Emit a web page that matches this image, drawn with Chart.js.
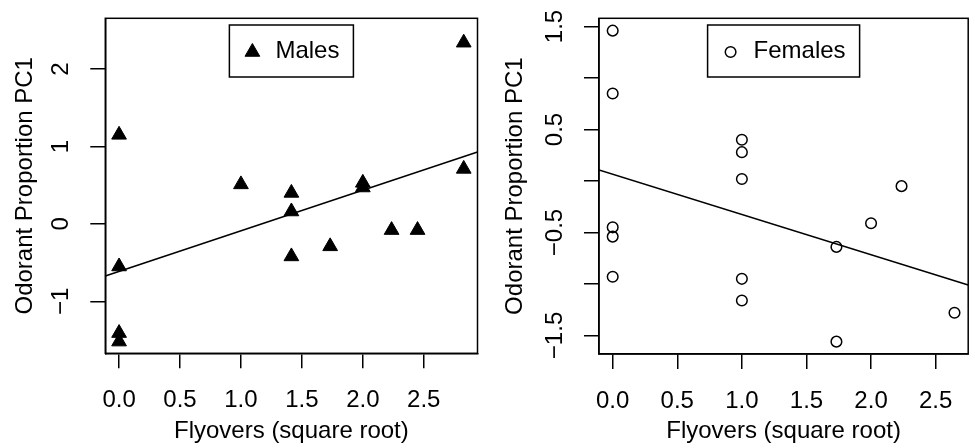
<!DOCTYPE html>
<html>
<head>
<meta charset="utf-8">
<script src="https://cdn.jsdelivr.net/npm/chart.js@4.4.0/dist/chart.umd.min.js"></script>
<style>
  body { margin: 0; background: #fff; }
  #wrap { display: flex; width: 975px; height: 448px; }
  canvas { display: block; }
</style>
</head>
<body>
<div id="wrap">
  <canvas id="males" width="487" height="448"></canvas>
  <canvas id="females" width="488" height="448"></canvas>
</div>
<script>
const FONT_FAMILY = '"Liberation Sans", Arial, Helvetica, sans-serif';
const FONT_SIZE = 24;

const xTicks = [0, 0.5, 1, 1.5, 2, 2.5];
const xTickLabels = ["0.0", "0.5", "1.0", "1.5", "2.0", "2.5"];

// males (left panel)
const maleX = [0, 0, 0, 0, 1, 1.414, 1.414, 1.414, 1.732, 2, 2, 2.236, 2.449, 2.828, 2.828];
const maleY = [1.15, -0.55, -1.41, -1.52, 0.51, 0.40, 0.16, -0.42, -0.29, 0.53, 0.47, -0.08, -0.08, 2.34, 0.71];
const maleLineX = [-0.113, 2.941];
const maleLineY = [-0.672, 0.928];
const maleYTicks = [-1, 0, 1, 2];
const maleYLabels = ["\u22121", "0", "1", "2"];

// females (right panel)
const femaleX = [0, 0, 0, 0, 0, 1, 1, 1, 1, 1, 1.732, 1.732, 2, 2.236, 2.646];
const femaleY = [1.46, 0.85, -0.45, -0.54, -0.93, 0.40, 0.28, 0.02, -0.95, -1.16, -0.64, -1.56, -0.41, -0.05, -1.28];
const femaleLineX = [-0.106, 2.752];
const femaleLineY = [0.107, -1.010];
const femaleYTicks = [-1.5, -1, -0.5, 0, 0.5, 1, 1.5];
const femaleYLabels = ["\u22121.5", "", "\u22120.5", "", "0.5", "", "1.5"];

Chart.defaults.font.family = FONT_FAMILY;
Chart.defaults.font.size = FONT_SIZE;
Chart.defaults.color = "#000";

function pts(xs, ys) {
  return xs.map((x, i) => ({ x: x, y: ys[i] }));
}

// box, rotated y labels and boxed legend, the way base R draws them
const rStyle = {
  id: "rStyle",
  afterDraw(chart, args, opts) {
    const ctx = chart.ctx;
    const a = chart.chartArea;
    const ys = chart.scales.y;
    ctx.save();
    ctx.strokeStyle = "#000";
    ctx.fillStyle = "#000";
    ctx.lineWidth = 1.5;
    ctx.strokeRect(a.left, a.top, a.right - a.left, a.bottom - a.top);

    ctx.font = FONT_SIZE + "px " + FONT_FAMILY;
    ctx.textAlign = "center";
    ctx.textBaseline = "alphabetic";
    opts.yTicks.forEach((v, i) => {
      ctx.save();
      ctx.translate(a.left - 37, ys.getPixelForValue(v));
      ctx.rotate(-Math.PI / 2);
      ctx.fillText(opts.yLabels[i], 0, 0);
      ctx.restore();
    });

    const ds = chart.data.datasets[1];
    const tw = ctx.measureText(ds.label).width;
    const bw = 46 + tw + 14, bh = 52;
    const bx = (a.left + a.right) / 2 - bw / 2;
    const by = a.top + 6.7;
    ctx.strokeRect(bx, by, bw, bh);
    ctx.fillStyle = ds.backgroundColor;
    ctx.strokeStyle = ds.borderColor;
    ctx.lineWidth = ds.borderWidth;
    Chart.helpers.drawPoint(ctx, { pointStyle: ds.pointStyle, radius: ds.pointRadius, borderWidth: ds.borderWidth, rotation: 0 }, bx + 23, by + 27);
    ctx.fillStyle = "#000";
    ctx.textAlign = "left";
    ctx.fillText(ds.label, bx + 46, by + 33.3);
    ctx.restore();
  }
};

function makePanel(id, cfg) {
  new Chart(document.getElementById(id), {
    type: "scatter",
    data: {
      datasets: [
        {
          type: "line",
          label: "fit",
          data: pts(cfg.lineX, cfg.lineY),
          borderColor: "#000",
          borderWidth: 1.5,
          pointRadius: 0,
          fill: false
        },
        {
          label: cfg.label,
          data: pts(cfg.x, cfg.y),
          pointStyle: cfg.pointStyle,
          pointRadius: cfg.radius,
          backgroundColor: cfg.fill,
          borderColor: "#000",
          borderWidth: cfg.borderWidth
        }
      ]
    },
    options: {
      responsive: false,
      animation: false,
      layout: { padding: cfg.padding },
      plugins: {
        legend: { display: false },
        tooltip: { enabled: false },
        rStyle: { yTicks: cfg.yTicks, yLabels: cfg.yLabels }
      },
      scales: {
        x: {
          type: "linear",
          min: cfg.xMin,
          max: cfg.xMax,
          afterBuildTicks: s => { s.ticks = xTicks.map(v => ({ value: v })); },
          afterFit: s => { s.height = cfg.xHeight; },
          ticks: {
            callback: (v, i) => xTickLabels[i],
            padding: 18,
            maxRotation: 0,
            autoSkip: false
          },
          grid: { drawOnChartArea: false, drawTicks: true, tickLength: 15, color: "#000", lineWidth: 1.5 },
          border: { color: "#000", width: 1.5 },
          title: { display: true, text: "Flyovers (square root)", padding: { top: 0, bottom: 2 } }
        },
        y: {
          type: "linear",
          min: cfg.yMin,
          max: cfg.yMax,
          afterBuildTicks: s => { s.ticks = cfg.yTicks.map(v => ({ value: v })); },
          afterFit: s => { s.width = cfg.yWidth; },
          ticks: { display: false },
          grid: { drawOnChartArea: false, drawTicks: true, tickLength: 15, color: "#000", lineWidth: 1.5 },
          border: { color: "#000", width: 1.5 },
          title: { display: true, text: "Odorant Proportion PC1", padding: { top: cfg.titlePad, bottom: 0 } }
        }
      }
    },
    plugins: [rStyle]
  });
}

makePanel("males", {
  label: "Males",
  x: maleX, y: maleY, lineX: maleLineX, lineY: maleLineY,
  yTicks: maleYTicks, yLabels: maleYLabels,
  pointStyle: "triangle", radius: 8.5, fill: "#000", borderWidth: 1,
  xMin: -0.113, xMax: 2.941, yMin: -1.671, yMax: 2.655,
  padding: { top: 18.3, right: 7, bottom: 0, left: 0 },
  xHeight: 94.7, yWidth: 105.3, titlePad: 11.4
});

makePanel("females", {
  label: "Females",
  x: femaleX, y: femaleY, lineX: femaleLineX, lineY: femaleLineY,
  yTicks: femaleYTicks, yLabels: femaleYLabels,
  pointStyle: "circle", radius: 5.3, fill: "rgba(0,0,0,0)", borderWidth: 1.5,
  xMin: -0.106, xMax: 2.752, yMin: -1.680, yMax: 1.580,
  padding: { top: 18.3, right: 2.7, bottom: 0, left: 0 },
  xHeight: 94, yWidth: 112, titlePad: 14.4
});
</script>
</body>
</html>
